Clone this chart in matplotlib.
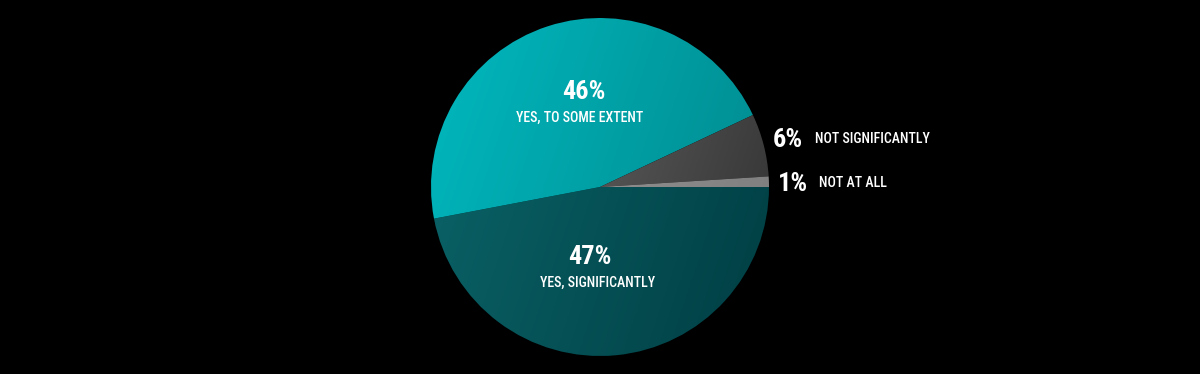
import numpy as np
import matplotlib.pyplot as plt
from matplotlib.colors import LinearSegmentedColormap

shares = [47, 46, 6, 1]
pcts = ["47%", "46%", "6%", "1%"]
labels = ["YES, SIGNIFICANTLY", "YES, TO SOME EXTENT", "NOT SIGNIFICANTLY", "NOT AT ALL"]
# gradient start/end colours for each slice (left -> right)
grads = [("#0b666a", "#003e43"), ("#00b9bf", "#00868a"),
         ("#767676", "#303030"), ("#a0a0a0", "#7c7c7c")]

fig = plt.figure(figsize=(12, 3.74), dpi=100, facecolor="black")
ax = fig.add_axes([0, 0, 1, 1])

cx, cy, r = 600, 187, 169
wedges, _ = ax.pie(shares, startangle=0, counterclock=False, radius=r,
                   center=(cx, cy), frame=True,
                   wedgeprops=dict(linewidth=0))
ax.set_xlim(0, 1200)
ax.set_ylim(0, 374)
ax.set_aspect("equal")
ax.axis("off")

yy, xx = np.mgrid[0:1:200j, 0:1:200j]
g = 0.75 * xx + 0.25 * yy
for w, (c0, c1) in zip(wedges, grads):
    w.set_facecolor("none")
    cmap = LinearSegmentedColormap.from_list("g", [c0, c1])
    im = ax.imshow(g, cmap=cmap, extent=(cx - r, cx + r, cy - r, cy + r),
                   origin="upper", zorder=1, interpolation="bilinear")
    im.set_clip_path(w)

fam = ["Roboto Condensed", "Roboto", "DejaVu Sans"]
big = dict(family=fam, weight="bold", color="white", fontsize=19)
small = dict(family=fam, weight="medium", color="white", fontsize=10)

# inside labels (pixel coordinates measured from top)
ax.text(584, 374 - 92, pcts[1], ha="center", va="center", **big)
ax.text(580, 374 - 118, labels[1], ha="center", va="center", **small)
ax.text(590, 374 - 257, pcts[0], ha="center", va="center", **big)
ax.text(598, 374 - 283, labels[0], ha="center", va="center", **small)

# outside labels
ax.text(788, 374 - 140, pcts[2], ha="center", va="center", **big)
ax.text(815, 374 - 139, labels[2], ha="left", va="center", **small)
ax.text(793, 374 - 184, pcts[3], ha="center", va="center", **big)
ax.text(819, 374 - 183, labels[3], ha="left", va="center", **small)

fig.savefig("out.png", dpi=100, facecolor="black")
